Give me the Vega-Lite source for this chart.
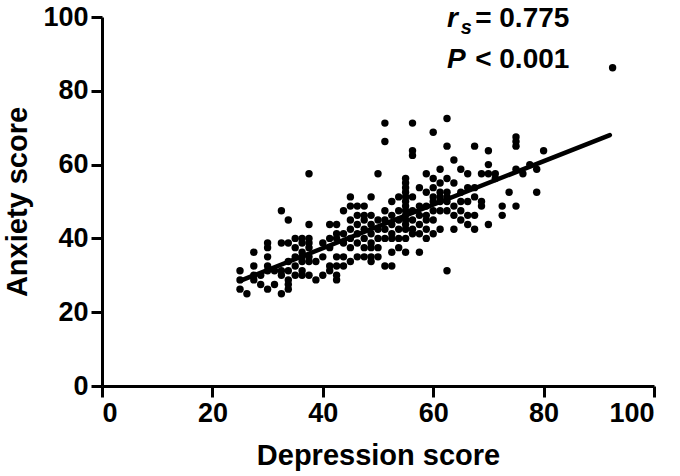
{
  "$schema": "https://vega.github.io/schema/vega-lite/v6.json",
  "autosize": "none",
  "width": 552,
  "height": 369,
  "padding": {"left": 102, "top": 17, "right": 26, "bottom": 90},
  "background": "white",
  "config": {
    "view": {"stroke": null},
    "font": "Liberation Sans",
    "axis": {
      "grid": false,
      "domainColor": "black",
      "domainWidth": 3,
      "tickColor": "black",
      "tickWidth": 3,
      "tickSize": 11,
      "labelFont": "Liberation Sans Narrow, Liberation Sans",
      "labelFontWeight": "bold",
      "labelFontSize": 27,
      "labelColor": "black",
      "labelPadding": 3,
      "titleFont": "Liberation Sans",
      "titleFontWeight": "bold",
      "titleFontSize": 29,
      "titleColor": "black"
    }
  },
  "datasets": {
    "pts": [
      {"d":25,"a":31.25},{"d":25,"a":28.75},{"d":25,"a":26.25},
      {"d":26.25,"a":25},
      {"d":27.5,"a":36.25},{"d":27.5,"a":32.5},{"d":27.5,"a":30},{"d":27.5,"a":28.75},
      {"d":28.75,"a":30},{"d":28.75,"a":27.5},
      {"d":30,"a":38.75},{"d":30,"a":37.5},{"d":30,"a":35},{"d":30,"a":32.5},{"d":30,"a":31.25},{"d":30,"a":26.25},
      {"d":31.25,"a":31.25},{"d":31.25,"a":27.5},
      {"d":32.5,"a":47.5},{"d":32.5,"a":38.75},{"d":32.5,"a":31.25},{"d":32.5,"a":30},{"d":32.5,"a":25},
      {"d":33.75,"a":45},{"d":33.75,"a":38.75},{"d":33.75,"a":33.75},{"d":33.75,"a":31.25},{"d":33.75,"a":28.75},{"d":33.75,"a":27.5},{"d":33.75,"a":26.25},
      {"d":35,"a":40},{"d":35,"a":37.5},{"d":35,"a":35},{"d":35,"a":32.5},{"d":35,"a":30},
      {"d":36.25,"a":40},{"d":36.25,"a":38.75},{"d":36.25,"a":36.25},{"d":36.25,"a":35},{"d":36.25,"a":33.75},{"d":36.25,"a":31.25},{"d":36.25,"a":30},
      {"d":37.5,"a":57.5},{"d":37.5,"a":43.75},{"d":37.5,"a":40},{"d":37.5,"a":38.75},{"d":37.5,"a":37.5},{"d":37.5,"a":35},{"d":37.5,"a":33.75},{"d":37.5,"a":30},
      {"d":38.75,"a":33.75},{"d":38.75,"a":28.75},
      {"d":40,"a":38.75},{"d":40,"a":35},{"d":40,"a":30},
      {"d":41.25,"a":43.75},{"d":41.25,"a":40},{"d":41.25,"a":37.5},{"d":41.25,"a":32.5},{"d":41.25,"a":31.25},
      {"d":42.5,"a":43.75},{"d":42.5,"a":41.25},{"d":42.5,"a":40},{"d":42.5,"a":35},{"d":42.5,"a":32.5},{"d":42.5,"a":30},{"d":42.5,"a":28.75},
      {"d":43.75,"a":47.5},{"d":43.75,"a":41.25},{"d":43.75,"a":38.75},{"d":43.75,"a":35},{"d":43.75,"a":32.5},
      {"d":45,"a":51.25},{"d":45,"a":48.75},{"d":45,"a":45},{"d":45,"a":42.5},{"d":45,"a":40},{"d":45,"a":37.5},{"d":45,"a":33.75},
      {"d":46.25,"a":48.75},{"d":46.25,"a":46.25},{"d":46.25,"a":43.75},{"d":46.25,"a":41.25},{"d":46.25,"a":38.75},{"d":46.25,"a":35},
      {"d":47.5,"a":48.75},{"d":47.5,"a":46.25},{"d":47.5,"a":45},{"d":47.5,"a":42.5},{"d":47.5,"a":40},{"d":47.5,"a":37.5},{"d":47.5,"a":35},
      {"d":48.75,"a":51.25},{"d":48.75,"a":46.25},{"d":48.75,"a":43.75},{"d":48.75,"a":41.25},{"d":48.75,"a":38.75},{"d":48.75,"a":37.5},{"d":48.75,"a":35},{"d":48.75,"a":33.75},
      {"d":50,"a":57.5},{"d":50,"a":45},{"d":50,"a":42.5},{"d":50,"a":40},{"d":50,"a":37.5},{"d":50,"a":35},
      {"d":51.25,"a":71.25},{"d":51.25,"a":66.25},{"d":51.25,"a":47.5},{"d":51.25,"a":45},{"d":51.25,"a":42.5},{"d":51.25,"a":40},{"d":51.25,"a":32.5},
      {"d":52.5,"a":50},{"d":52.5,"a":46.25},{"d":52.5,"a":43.75},{"d":52.5,"a":41.25},{"d":52.5,"a":40},{"d":52.5,"a":36.25},{"d":52.5,"a":32.5},
      {"d":53.75,"a":51.25},{"d":53.75,"a":47.5},{"d":53.75,"a":45},{"d":53.75,"a":42.5},{"d":53.75,"a":40},{"d":53.75,"a":37.5},
      {"d":55,"a":56.25},{"d":55,"a":55},{"d":55,"a":53.75},{"d":55,"a":52.5},{"d":55,"a":51.25},{"d":55,"a":50},{"d":55,"a":48.75},{"d":55,"a":47.5},{"d":55,"a":46.25},{"d":55,"a":45},{"d":55,"a":43.75},{"d":55,"a":42.5},{"d":55,"a":40},{"d":55,"a":36.25},
      {"d":56.25,"a":71.25},{"d":56.25,"a":63.75},{"d":56.25,"a":62.5},{"d":56.25,"a":51.25},{"d":56.25,"a":47.5},{"d":56.25,"a":45},{"d":56.25,"a":42.5},{"d":56.25,"a":41.25},
      {"d":57.5,"a":53.75},{"d":57.5,"a":48.75},{"d":57.5,"a":46.25},{"d":57.5,"a":43.75},{"d":57.5,"a":41.25},{"d":57.5,"a":36.25},
      {"d":58.75,"a":57.5},{"d":58.75,"a":52.5},{"d":58.75,"a":48.75},{"d":58.75,"a":46.25},{"d":58.75,"a":45},{"d":58.75,"a":42.5},{"d":58.75,"a":40},
      {"d":60,"a":68.75},{"d":60,"a":56.25},{"d":60,"a":53.75},{"d":60,"a":51.25},{"d":60,"a":50},{"d":60,"a":47.5},{"d":60,"a":45},{"d":60,"a":41.25},
      {"d":61.25,"a":58.75},{"d":61.25,"a":55},{"d":61.25,"a":52.5},{"d":61.25,"a":51.25},{"d":61.25,"a":50},{"d":61.25,"a":47.5},{"d":61.25,"a":42.5},
      {"d":62.5,"a":72.5},{"d":62.5,"a":65},{"d":62.5,"a":56.25},{"d":62.5,"a":52.5},{"d":62.5,"a":51.25},{"d":62.5,"a":50},{"d":62.5,"a":47.5},{"d":62.5,"a":31.25},
      {"d":63.75,"a":61.25},{"d":63.75,"a":55},{"d":63.75,"a":48.75},{"d":63.75,"a":46.25},{"d":63.75,"a":42.5},
      {"d":65,"a":58.75},{"d":65,"a":52.5},{"d":65,"a":50},{"d":65,"a":47.5},{"d":65,"a":45},
      {"d":66.25,"a":57.5},{"d":66.25,"a":53.75},{"d":66.25,"a":50},{"d":66.25,"a":46.25},{"d":66.25,"a":43.75},
      {"d":67.5,"a":65},{"d":67.5,"a":53.75},{"d":67.5,"a":51.25},{"d":67.5,"a":46.25},{"d":67.5,"a":42.5},
      {"d":68.75,"a":57.5},{"d":68.75,"a":50},{"d":68.75,"a":48.75},
      {"d":70,"a":63.75},{"d":70,"a":60},{"d":70,"a":57.5},{"d":70,"a":43.75},
      {"d":71.25,"a":57.5},{"d":71.25,"a":56.25},
      {"d":72.5,"a":48.75},{"d":72.5,"a":46.25},
      {"d":73.75,"a":52.5},
      {"d":75,"a":67.5},{"d":75,"a":66.25},{"d":75,"a":65},{"d":75,"a":58.75},{"d":75,"a":48.75},
      {"d":76.25,"a":57.5},
      {"d":77.5,"a":60},
      {"d":78.75,"a":58.75},{"d":78.75,"a":52.5},
      {"d":80,"a":63.75},
      {"d":92.5,"a":86.25}
    ],
    "fit": [{"d":25,"a":28.5},{"d":92,"a":68}],
    "annItalic": [
      {"d":62.5,"a":97.3,"t":"r","size":28},
      {"d":65.0,"a":95.3,"t":"s","size":20},
      {"d":62.5,"a":86.2,"t":"P","size":28}
    ],
    "annNormal": [
      {"d":67.6,"a":97.3,"t":"= 0.775"},
      {"d":67.6,"a":86.2,"t":"< 0.001"}
    ]
  },
  "encoding": {
    "x": {"field":"d","type":"quantitative","scale":{"domain":[0,100],"nice":false},
          "axis":{"values":[0,20,40,60,80,100],"title":"Depression score","titlePadding":15}},
    "y": {"field":"a","type":"quantitative","scale":{"domain":[0,100],"nice":false},
          "axis":{"values":[0,20,40,60,80,100],"title":"Anxiety score","titlePadding":10}}
  },
  "layer": [
    {"data":{"name":"pts"},"mark":{"type":"circle","color":"black","opacity":1,"size":55}},
    {"data":{"name":"fit"},"mark":{"type":"line","color":"black","strokeWidth":4.5,"strokeCap":"round"}},
    {"data":{"name":"annItalic"},"mark":{"type":"text","align":"left","baseline":"alphabetic","fontWeight":"bold","fontStyle":"italic","color":"black","font":"Liberation Sans"},
     "encoding":{"text":{"field":"t"},"size":{"field":"size","type":"quantitative","scale":null}}},
    {"data":{"name":"annNormal"},"mark":{"type":"text","align":"left","baseline":"alphabetic","fontWeight":"bold","color":"black","font":"Liberation Sans","fontSize":28},
     "encoding":{"text":{"field":"t"}}}
  ]
}
